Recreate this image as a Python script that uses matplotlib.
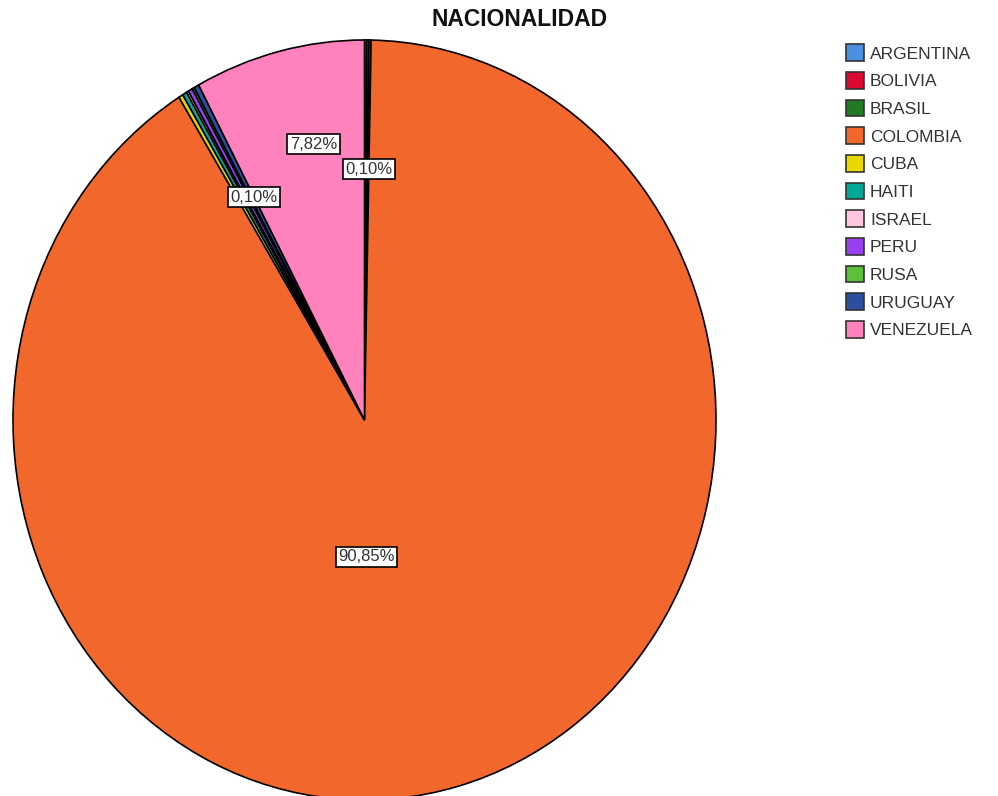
import numpy as np
import matplotlib
matplotlib.use("Agg")
import matplotlib.pyplot as plt
from matplotlib.patches import Patch

categories = ["ARGENTINA", "BOLIVIA", "BRASIL", "COLOMBIA", "CUBA", "HAITI",
              "ISRAEL", "PERU", "RUSA", "URUGUAY", "VENEZUELA"]
percents = [0.10, 0.10, 0.10, 90.85, 0.20, 0.20, 0.10, 0.20, 0.10, 0.23, 7.82]
labels_shown = {"ARGENTINA": "0,10%", "COLOMBIA": "90,85%", "CUBA": "0,10%", "VENEZUELA": "7,82%"}
colors = ["#4a8fe0", "#dc0a32", "#1f7a22", "#f2672b", "#e8d800", "#00a898",
          "#ffc6e0", "#9a40f0", "#5cc03a", "#2c4ea0", "#ff82bc"]

plt.rcParams['font.family'] = ['Liberation Sans', 'DejaVu Sans']
fig = plt.figure(figsize=(9.98, 7.96), dpi=100)

ax = fig.add_axes([13/998, -4/796, 703/998, 760/796])
wedges, _ = ax.pie(percents, colors=colors, startangle=90, counterclock=False,
                   wedgeprops=dict(edgecolor="black", linewidth=1.2))
ax.set_aspect('auto')
ax.set_xlim(-1.0, 1.0)
ax.set_ylim(-1.0, 1.0)
ax.axis('off')

label_r = {"ARGENTINA": 0.66, "COLOMBIA": 0.36, "CUBA": 0.665, "VENEZUELA": 0.74}
label_ang = {"ARGENTINA": 88.8, "COLOMBIA": -89.0, "CUBA": 118.2, "VENEZUELA": 101.3}
for cat, w in zip(categories, wedges):
    if cat in labels_shown:
        ang = label_ang.get(cat, (w.theta1 + w.theta2) / 2)
        r = label_r[cat]
        x = r * np.cos(np.radians(ang))
        y = r * np.sin(np.radians(ang))
        ax.text(x, y, labels_shown[cat], ha='center', va='center', fontsize=12,
                color='#333333',
                bbox=dict(boxstyle='square,pad=0.15', facecolor='white',
                          edgecolor='black', linewidth=1.2))

fig.text(520/998, 1 - 20/796, "NACIONALIDAD", ha='center', va='center',
         fontsize=16.5, fontweight='bold', color='#111111')

handles = [Patch(facecolor=c, edgecolor='#333333', linewidth=1.2) for c in colors]
leg = fig.legend(handles, categories, loc='upper left',
                 bbox_to_anchor=(843/998, 1 - 41/796), frameon=False,
                 fontsize=12.5, handlelength=1.0, handleheight=1.1,
                 handletextpad=0.35, labelspacing=0.6, borderaxespad=0.0,
                 borderpad=0.2)
for t in leg.get_texts():
    t.set_color('#333333')

fig.savefig("out.png", dpi=100, facecolor='white')
